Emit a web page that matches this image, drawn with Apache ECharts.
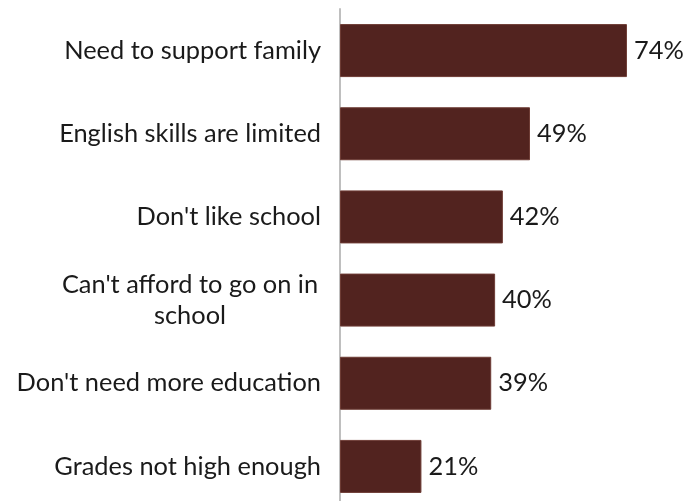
<!DOCTYPE html>
<html>
<head>
<meta charset="utf-8">
<script src="https://cdn.jsdelivr.net/npm/echarts@6/dist/echarts.min.js"></script>
<style>html,body{margin:0;padding:0;background:#fff;}#c{width:694px;height:501px;}</style>
</head>
<body>
<div id="c"></div>
<script>
const categories = ["Need to support family", "English skills are limited", "Don't like school", "Can't afford to go on in\nschool", "Don't need more education", "Grades not high enough"];
const values = [74, 49, 42, 40, 39, 21];

const chart = echarts.init(document.getElementById('c'));
const FONT = 'Lato';
const FS = 25.4;
chart.setOption({
  animation: false,
  backgroundColor: '#ffffff',
  grid: { left: 340, width: 349, top: 9, height: 499, containLabel: false, outerBoundsMode: 'none' },
  xAxis: { type: 'value', min: 0, max: 90, show: false },
  yAxis: {
    type: 'category', data: categories, inverse: true,
    axisLine: { show: true, lineStyle: { color: '#bfbfbf', width: 2 } },
    axisTick: { show: false },
    axisLabel: {
      margin: 19, color: '#1a1a1a', fontFamily: FONT, fontSize: FS,
      formatter: function (v) {
        if (v.indexOf('\n') >= 0) {
          return v.split('\n').map(function (s) { return '{c|' + s + '}'; }).join('\n');
        }
        return v;
      },
      rich: { c: { width: 262, align: 'center', fontFamily: FONT, fontSize: FS, color: '#1a1a1a', lineHeight: 31 } }
    }
  },
  series: [{
    type: 'bar', data: values, barWidth: 53,
    itemStyle: { color: '#52231f', borderColor: '#6e3c35', borderWidth: 1 },
    label: { show: true, position: 'right', distance: 7, formatter: '{c}%', color: '#1a1a1a', fontFamily: FONT, fontSize: FS }
  }]
});
</script>
</body>
</html>
